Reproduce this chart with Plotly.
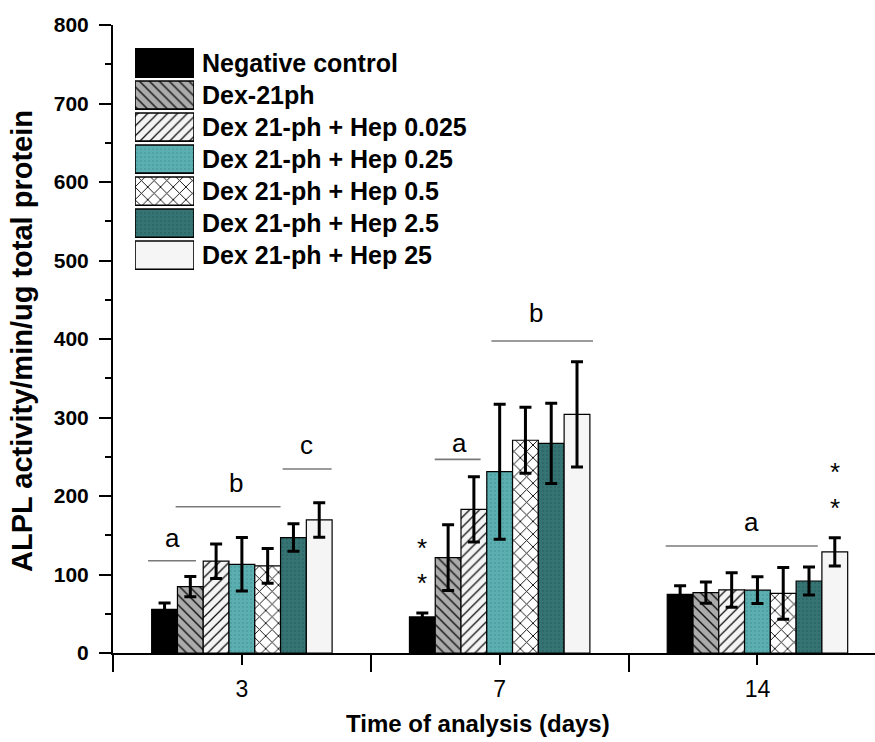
import plotly.graph_objects as go

# ---------------- data ----------------
days = ["3", "7", "14"]
series_names = [
    "Negative control",
    "Dex-21ph",
    "Dex 21-ph + Hep 0.025",
    "Dex 21-ph + Hep 0.25",
    "Dex 21-ph + Hep 0.5",
    "Dex 21-ph + Hep 2.5",
    "Dex 21-ph + Hep 25",
]
neg_control = [55.7, 46.0, 74.7]
neg_control_err = [8.0, 5.0, 11.0]
dex21ph = [84.5, 121.5, 77.0]
dex21ph_err = [13.0, 42.0, 13.5]
hep_0025 = [117.0, 183.0, 80.3]
hep_0025_err = [22.0, 41.5, 22.0]
hep_025 = [113.0, 231.0, 80.0]
hep_025_err = [34.0, 86.0, 17.0]
hep_05 = [111.0, 271.0, 76.0]
hep_05_err = [22.0, 42.0, 33.0]
hep_25 = [147.0, 267.0, 91.7]
hep_25_err = [17.5, 51.0, 17.7]
hep_250 = [169.5, 304.0, 128.7]
hep_250_err = [22.0, 67.0, 18.0]

values = [neg_control, dex21ph, hep_0025, hep_025, hep_05, hep_25, hep_250]
errors = [neg_control_err, dex21ph_err, hep_0025_err, hep_025_err, hep_05_err, hep_25_err, hep_250_err]

# significance brackets: (day index, x offset start, x offset end, y, label, label x offset, label y)
brackets = [
    (0, -0.364, -0.178, 117.6, "a", -0.268, 146.5),
    (0, -0.257, 0.150, 186.4, "b", -0.021, 217.0),
    (0, 0.158, 0.348, 234.4, "c", 0.251, 265.0),
    (1, -0.252, -0.074, 246.7, "a", -0.155, 267.0),
    (1, -0.032, 0.362, 397.5, "b", 0.140, 433.0),
    (2, -0.356, 0.234, 136.3, "a", -0.023, 167.5),
]
# asterisks: (day index, x offset, y values)
stars = [
    (1, -0.300, [139.7, 95.2]),
    (2, 0.301, [236.6, 190.7]),
]

# ---------------- styles ----------------
styles = [
    dict(color="#000000", shape="", fg="#000000", size=8, sol=0.2),
    dict(color="#ababab", shape="\\", fg="#111111", size=7, sol=0.2),
    dict(color="#f4f4f4", shape="/", fg="#111111", size=7, sol=0.18),
    dict(color="#5bafb0", shape=".", fg="#4d9c9d", size=4, sol=0.2),
    dict(color="#ffffff", shape="x", fg="#111111", size=9, sol=0.2),
    dict(color="#367474", shape=".", fg="#2b6464", size=4, sol=0.2),
    dict(color="#f5f5f5", shape="", fg="#f5f5f5", size=8, sol=0.2),
]

FONT = "Arial, Liberation Sans, sans-serif"

fig = go.Figure()
xpos = list(range(len(days)))
for name, vals, errs, st in zip(series_names, values, errors, styles):
    fig.add_trace(go.Bar(
        x=xpos, y=vals, name=name, showlegend=False,
        marker=dict(
            color=st["color"],
            line=dict(color="#000000", width=1.2),
            pattern=dict(shape=st["shape"], fgcolor=st["fg"], bgcolor=st["color"],
                         size=st["size"], solidity=st["sol"], fillmode="replace"),
        ),
        error_y=dict(type="data", array=errs, visible=True, color="#000000",
                     thickness=3, width=6),
        xaxis="x", yaxis="y",
    ))

# custom legend swatches (second subplot), one trace per series
for name, st in zip(series_names, styles):
    fig.add_trace(go.Bar(
        x=[1], y=[name], orientation="h", showlegend=False, width=0.88,
        offsetgroup="legend",
        marker=dict(
            color=st["color"],
            line=dict(color="#000000", width=1.6),
            pattern=dict(shape=st["shape"], fgcolor=st["fg"], bgcolor=st["color"],
                         size=st["size"], solidity=st["sol"], fillmode="replace"),
        ),
        xaxis="x2", yaxis="y2", hoverinfo="skip",
    ))

shapes = []
annotations = []
for d, x0, x1, y, lab, lx, ly in brackets:
    shapes.append(dict(type="line", xref="x", yref="y", x0=d + x0, x1=d + x1, y0=y, y1=y,
                       line=dict(color="#7a7a7a", width=1.6)))
    annotations.append(dict(xref="x", yref="y", x=d + lx, y=ly, text=lab, showarrow=False,
                            font=dict(family=FONT, size=26, color="#000000"),
                            xanchor="center", yanchor="middle"))
for d, sx, ys in stars:
    for yv in ys:
        annotations.append(dict(xref="x", yref="y", x=d + sx, y=yv, text="*", showarrow=False,
                                font=dict(family=FONT, size=26, color="#000000"),
                                xanchor="center", yanchor="middle", yshift=-5))

for name in series_names:
    annotations.append(dict(xref="paper", yref="y2", x=0.1145, y=name, text="<b>%s</b>" % name,
                            showarrow=False, xanchor="left", yanchor="middle",
                            font=dict(family=FONT, size=25, color="#000000")))

# axis titles
annotations.append(dict(xref="paper", yref="paper", x=0.479, y=-0.112,
                        text="<b>Time of analysis (days)</b>", showarrow=False,
                        xanchor="center", yanchor="middle",
                        font=dict(family=FONT, size=24, color="#000000")))
annotations.append(dict(xref="paper", yref="paper", x=-0.1194, y=0.497,
                        text="<b>ALPL activity/min/ug total protein</b>", showarrow=False,
                        textangle=-90, xanchor="center", yanchor="middle",
                        font=dict(family=FONT, size=29, color="#000000")))

fig.update_layout(
    width=875, height=742,
    margin=dict(l=113, r=0, t=25, b=89),
    paper_bgcolor="#ffffff", plot_bgcolor="#ffffff",
    barmode="group", bargap=0.3, bargroupgap=0.0,
    showlegend=False,
    font=dict(family=FONT, color="#000000"),
    xaxis=dict(
        domain=[0, 1], range=[-0.5, 2.456], tickmode="array", tickvals=xpos, ticktext=days,
        ticks="outside", ticklen=10, tickwidth=2, tickcolor="#000000",
        showline=True, linewidth=2, linecolor="#000000", showgrid=False, zeroline=False,
        tickfont=dict(family=FONT, size=23, color="#000000"), ticklabelstandoff=4,
        minor=dict(tickmode="linear", tick0=-0.5, dtick=1, ticks="outside", ticklen=17,
                   tickwidth=2, tickcolor="#000000", showgrid=False),
        anchor="y",
    ),
    yaxis=dict(
        domain=[0, 1], range=[0, 800], dtick=100, tick0=0,
        ticks="outside", ticklen=12, tickwidth=2, tickcolor="#000000",
        showline=True, linewidth=2, linecolor="#000000", showgrid=False, zeroline=False,
        tickfont=dict(family=FONT, size=21, color="#000000", weight="bold"),
        ticklabelstandoff=6,
        minor=dict(dtick=50, ticks="outside", ticklen=6, tickwidth=2, tickcolor="#000000",
                   showgrid=False),
        anchor="x",
    ),
    xaxis2=dict(domain=[0.0289, 0.1063], range=[0, 1], visible=False, anchor="y2",
                fixedrange=True),
    yaxis2=dict(domain=[0.608, 0.965], type="category", categoryorder="array",
                categoryarray=series_names, range=[6.5, -0.5], visible=False, anchor="x2",
                fixedrange=True),
    shapes=shapes,
    annotations=annotations,
)

fig.write_html("out.html")
